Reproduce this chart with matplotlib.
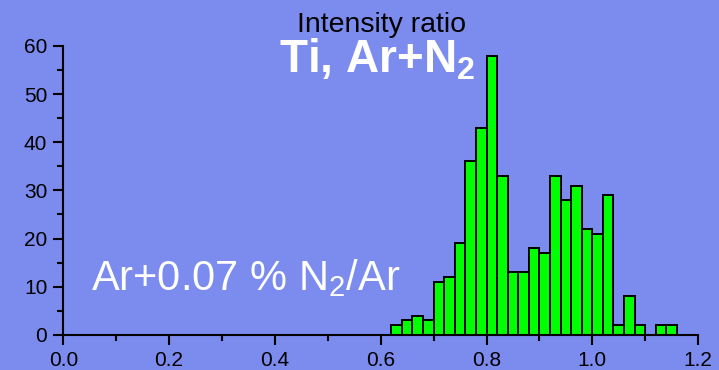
import numpy as np
import matplotlib.pyplot as plt
from matplotlib.ticker import MultipleLocator

plt.rcParams['font.family'] = ['Liberation Sans', 'DejaVu Sans']

# histogram bins (left edges) and counts
bin_left = [0.62, 0.64, 0.66, 0.68, 0.70, 0.72, 0.74, 0.76, 0.78, 0.80,
            0.82, 0.84, 0.86, 0.88, 0.90, 0.92, 0.94, 0.96, 0.98, 1.00,
            1.02, 1.04, 1.06, 1.08, 1.10, 1.12, 1.14]
counts = [2, 3, 4, 3, 11, 12, 19, 36, 43, 58,
          33, 13, 13, 18, 17, 33, 28, 31, 22, 21,
          29, 2, 8, 2, 0, 2, 2]
bin_width = 0.02

bg = '#7B8BEE'

fig = plt.figure(figsize=(7.19, 3.70), dpi=100, facecolor=bg)
ax = fig.add_axes([0.088, 0.095, 0.883, 0.781], facecolor=bg)

ax.bar(bin_left, counts, width=bin_width, align='edge',
       color='#00FF00', edgecolor='black', linewidth=1.4)

ax.set_xlim(0, 1.2)
ax.set_ylim(0, 60)
ax.xaxis.set_major_locator(MultipleLocator(0.2))
ax.xaxis.set_minor_locator(MultipleLocator(0.1))
ax.yaxis.set_major_locator(MultipleLocator(10))
ax.yaxis.set_minor_locator(MultipleLocator(5))
ax.xaxis.set_major_formatter(plt.FuncFormatter(lambda v, p: f'{v:.1f}'))

for s in ['top', 'right']:
    ax.spines[s].set_visible(False)
for s in ['left', 'bottom']:
    ax.spines[s].set_linewidth(1.5)

ax.tick_params(which='major', length=7.5, width=1.5, labelsize=15, pad=4)
ax.tick_params(which='minor', length=4, width=1.5)

fig.text(0.531, 0.914, 'Intensity ratio', ha='center', va='baseline',
         fontsize=20.5, color='black')
fig.text(0.388, 0.803, r'Ti, Ar+N$_\mathregular{2}$', ha='left', va='baseline',
         fontsize=33, fontweight='bold', color='white')
fig.text(0.127, 0.216, r'Ar+0.07 % N$_\mathregular{2}$/Ar', ha='left', va='baseline',
         fontsize=30, color='white')

fig.savefig('out.png', dpi=100, facecolor=bg)
